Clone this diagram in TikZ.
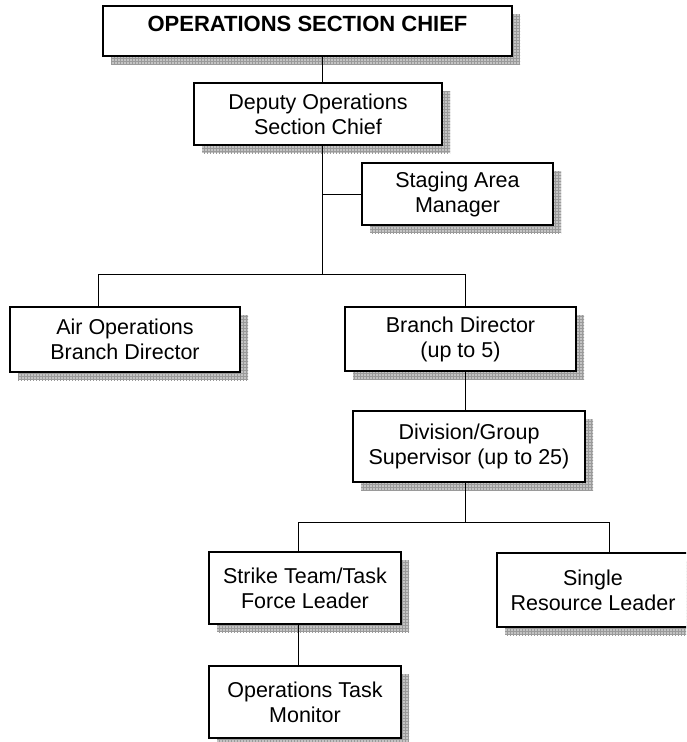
\documentclass[tikz,border=0pt]{standalone}
\usepackage{fontspec}
\setmainfont{Liberation Sans}
\usetikzlibrary{patterns}
\definecolor{shadowgray}{HTML}{C4C4C4}
\definecolor{gridgray}{HTML}{9A9A9A}
\tikzset{
  orgbox/.style={draw=black, line width=1.2pt, fill=white, align=center,
    inner sep=0pt, font=\fontsize{21.5}{25}\selectfont,
    preaction={draw=none, fill=shadowgray, transform canvas={shift={(8pt,-8pt)}}},
    preaction={draw=none, pattern=grid, pattern color=gridgray, transform canvas={shift={(8pt,-8pt)}}}},
  titlebox/.style={orgbox, font=\fontsize{22}{26}\bfseries\selectfont, text height=15pt, text depth=15pt},
  link/.style={draw=black, line width=1pt}
}
\begin{document}
\begin{tikzpicture}[x=1pt, y=-1pt]
  \useasboundingbox (0,0) rectangle (686,742);
  \clip (0,0) rectangle (686,742);

  % boxes
  \node[titlebox, minimum width=409, minimum height=50] (chief) at (307.5,31) {OPERATIONS SECTION CHIEF};
  \node[orgbox, minimum width=248, minimum height=62] (deputy) at (318,114) {Deputy Operations\\Section Chief};
  \node[orgbox, minimum width=191, minimum height=62] (staging) at (457.5,194) {Staging Area\\Manager};
  \node[orgbox, minimum width=230, minimum height=65] (air) at (125,339.5) {Air Operations\\Branch Director};
  \node[orgbox, minimum width=231, minimum height=64] (branch) at (460.5,339) {Branch Director\\(up to 5)};
  \node[orgbox, minimum width=232, minimum height=71] (division) at (469,446.5) {Division/Group\\Supervisor (up to 25)};
  \node[orgbox, minimum width=192, minimum height=72] (strike) at (305,588) {Strike Team/Task\\Force Leader};
  \node[orgbox, minimum width=192, minimum height=74] (single) at (593,590) {Single\\Resource Leader};
  \node[orgbox, minimum width=192, minimum height=72] (monitor) at (305,702) {Operations Task\\Monitor};

  % junction points of the connector tree
  \coordinate (barA) at (322,274);
  \coordinate (barAl) at (98,274);
  \coordinate (barAr) at (465,274);
  \coordinate (barB) at (465,522);
  \coordinate (barBl) at (298,522);
  \coordinate (barBr) at (609,522);

  % connectors
  \draw[link] (chief.south -| barA) -- (deputy.north -| barA);
  \draw[link] (deputy.south -| barA) -- (barA);
  \draw[link] (staging.west -| barA) -- (staging.west);
  \draw[link] (air.north -| barAl) |- (barAr) -- (branch.north -| barAr);
  \draw[link] (branch.south -| barB) -- (division.north -| barB);
  \draw[link] (division.south -| barB) -- (barB);
  \draw[link] (strike.north -| barBl) |- (barBr) -- (single.north -| barBr);
  \draw[link] (strike.south -| barBl) -- (monitor.north -| barBl);
\end{tikzpicture}
\end{document}
